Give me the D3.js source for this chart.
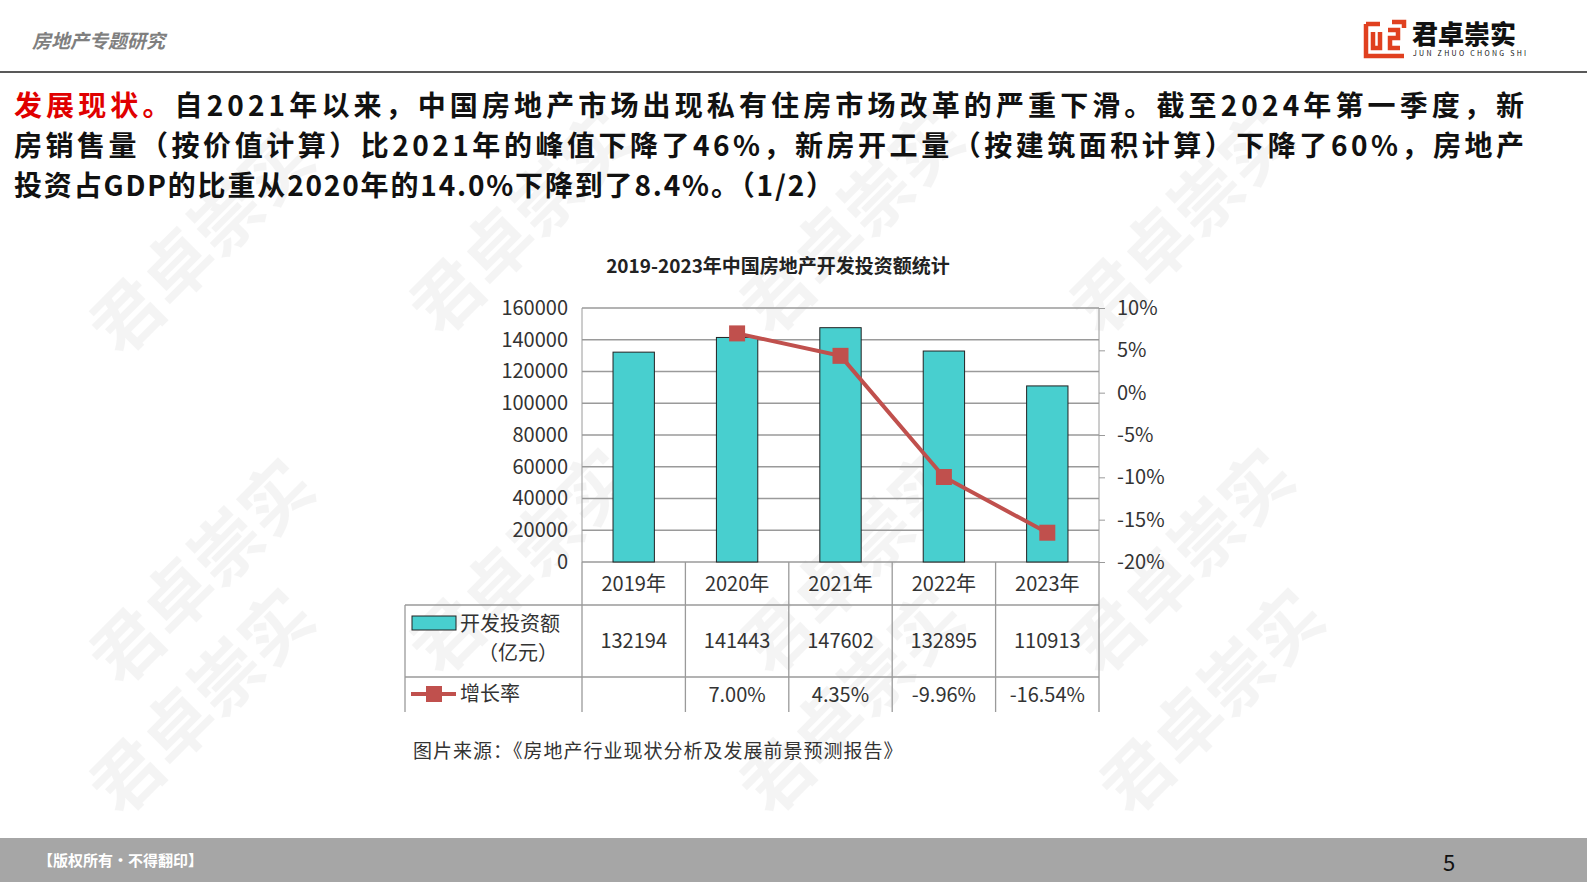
<!DOCTYPE html>
<html><head><meta charset="utf-8">
<script src="https://cdn.jsdelivr.net/npm/d3@7"></script>
<style>body{margin:0;background:#fff;overflow:hidden}svg{display:block}</style>
</head><body>
<svg id="c" width="1587" height="892"></svg>
<script>
const categories=["2019年","2020年","2021年","2022年","2023年"];
const investment=[132194,141443,147602,132895,110913];
const growth=[null,7.00,4.35,-9.96,-16.54];
const growthLabels=["","7.00%","4.35%","-9.96%","-16.54%"];
const leftTicks=[0,20000,40000,60000,80000,100000,120000,140000,160000];
const rightTicks=[-20,-15,-10,-5,0,5,10];

const svg=d3.select("#c");
const F="'Noto Sans CJK SC','Noto Sans',sans-serif";
// watermarks
const wm=[[220,260],[540,240],[870,240],[1200,240],[220,590],[540,580],[870,580],[1200,580],[220,720],[870,720],[1230,720]];
wm.forEach(([x,y])=>svg.append("text").attr("transform",`translate(${x},${y}) rotate(-45)`).attr("text-anchor","middle")
 .attr("font-family",F).attr("font-size",70).attr("font-weight",700).attr("fill","#000").attr("opacity",0.04).text("君卓崇实"));

// header
svg.append("text").attr("x",32).attr("y",48).attr("font-family",F).attr("font-size",19).attr("font-style","italic").attr("font-weight",700).attr("fill","#7f7f7f").text("房地产专题研究");
svg.append("line").attr("x1",0).attr("x2",1587).attr("y1",72).attr("y2",72).attr("stroke","#222").attr("stroke-width",1.5);
// logo
const lg=svg.append("g").attr("fill","none").attr("stroke","#e0401f").attr("stroke-width",4.5);
lg.append("path").attr("d","M1366,24 H1380 M1366,24 V56 H1404 M1373,32 V48 H1380 V32 M1388,30 H1398 V38 H1390 V48 H1400 M1392,22 H1404 V28");
svg.append("text").attr("x",1412).attr("y",44).attr("font-family",F).attr("font-size",26).attr("font-weight",900).attr("fill","#111").text("君卓崇实");
svg.append("text").attr("x",1413).attr("y",56).attr("font-family",F).attr("font-size",7).attr("letter-spacing",2.3).attr("fill","#111").text("JUN ZHUO CHONG SHI");

// title paragraph
const lines=[[["发展现状。","#e00000"],["自2021年以来，中国房地产市场出现私有住房市场改革的严重下滑。截至2024年第一季度，新","#111"]],
 [["房销售量（按价值计算）比2021年的峰值下降了46%，新房开工量（按建筑面积计算）下降了60%，房地产","#111"]],
 [["投资占GDP的比重从2020年的14.0%下降到了8.4%。（1/2）","#111"]]];
lines.forEach((ln,i)=>{const t=svg.append("text").attr("x",14).attr("y",116+i*40).attr("font-family",F).attr("font-size",28).attr("font-weight",700);
 if(i<2)t.attr("textLength",1510);else t.attr("textLength",820);
 ln.forEach(([s,c])=>t.append("tspan").attr("fill",c).text(s));});

// chart
const x0=582,x1=1099,yT=308,yB=562;
svg.append("text").attr("x",778).attr("y",273).attr("text-anchor","middle").attr("font-family",F).attr("font-size",19).attr("font-weight",700).attr("fill","#222").text("2019-2023年中国房地产开发投资额统计");
const x=d3.scaleBand().domain(categories).range([x0,x1]).paddingInner(0.6).paddingOuter(0.3);
const xb=d3.scaleBand().domain(categories).range([x0,x1]);
const yL=d3.scaleLinear().domain([0,160000]).range([yB,yT]);
const yR=d3.scaleLinear().domain([-20,10]).range([yB,yT]);
svg.append("g").selectAll("line").data(leftTicks).join("line").attr("x1",x0).attr("x2",x1).attr("y1",d=>yL(d)).attr("y2",d=>yL(d)).attr("stroke","#9a9a9a").attr("stroke-width",1.3);
svg.append("line").attr("x1",x0).attr("x2",x0).attr("y1",yT).attr("y2",yB).attr("stroke","#9a9a9a");
svg.append("line").attr("x1",x1).attr("x2",x1).attr("y1",yT).attr("y2",yB).attr("stroke","#9a9a9a");
svg.append("g").selectAll("rect").data(investment).join("rect").attr("x",(d,i)=>x(categories[i])).attr("width",x.bandwidth())
 .attr("y",d=>yL(d)).attr("height",d=>yB-yL(d)).attr("fill","#48cfcf").attr("stroke","#222").attr("stroke-width",1);
const gl=svg.append("g").attr("transform",`translate(${x0-6},0)`).call(d3.axisLeft(yL).tickValues(leftTicks).tickFormat(d3.format("d")).tickSize(0).tickPadding(8));
const gr=svg.append("g").attr("transform",`translate(${x1},0)`).call(d3.axisRight(yR).tickValues(rightTicks).tickFormat(d=>d+"%").tickSize(6).tickPadding(12));
[gl,gr].forEach(g=>{g.select(".domain").remove();g.selectAll("line").attr("stroke","#9a9a9a");g.selectAll("text").attr("font-family",F).attr("font-size",20).attr("fill","#333");});
const pts=growth.map((v,i)=>[i,v]).filter(d=>d[1]!=null);
const cx=i=>xb(categories[i])+xb.bandwidth()/2;
svg.append("path").attr("d",d3.line().x(d=>cx(d[0])).y(d=>yR(d[1]))(pts)).attr("fill","none").attr("stroke","#c0504d").attr("stroke-width",4);
svg.append("g").selectAll("rect").data(pts).join("rect").attr("x",d=>cx(d[0])-8).attr("y",d=>yR(d[1])-8).attr("width",16).attr("height",16).attr("fill","#c0504d");

// data table
const tl=405,r1=605,r2=677,r3=712,gc="#9a9a9a";
const tg=svg.append("g").attr("stroke",gc).attr("stroke-width",1.3);
categories.forEach((c,i)=>tg.append("line").attr("x1",xb(c)).attr("x2",xb(c)).attr("y1",yB).attr("y2",r3));
tg.append("line").attr("x1",x1).attr("x2",x1).attr("y1",yB).attr("y2",r3);
tg.append("line").attr("x1",tl).attr("x2",tl).attr("y1",r1).attr("y2",r3);
tg.append("line").attr("x1",tl).attr("x2",x1).attr("y1",r1).attr("y2",r1);
tg.append("line").attr("x1",tl).attr("x2",x1).attr("y1",r2).attr("y2",r2);
const tx=(xx,yy,s,a="middle")=>svg.append("text").attr("x",xx).attr("y",yy).attr("text-anchor",a).attr("font-family",F).attr("font-size",20).attr("fill","#333").text(s);
categories.forEach((c,i)=>{tx(cx(i),591,c);tx(cx(i),648,investment[i]);tx(cx(i),702,growthLabels[i]);});
svg.append("rect").attr("x",412).attr("y",616).attr("width",44).attr("height",14).attr("fill","#48cfcf").attr("stroke","#222");
tx(460,631,"开发投资额","start");tx(518,660,"（亿元）");
svg.append("line").attr("x1",411).attr("x2",456).attr("y1",694).attr("y2",694).attr("stroke","#c0504d").attr("stroke-width",4);
svg.append("rect").attr("x",426).attr("y",686).attr("width",16).attr("height",16).attr("fill","#c0504d");
tx(460,701,"增长率","start");

svg.append("text").attr("x",413).attr("y",758).attr("font-family",F).attr("font-size",19).attr("fill","#333").attr("letter-spacing",1).text("图片来源：《房地产行业现状分析及发展前景预测报告》");

// footer
svg.append("rect").attr("x",0).attr("y",838).attr("width",1587).attr("height",44).attr("fill","#a6a6a6");
svg.append("text").attr("x",38).attr("y",866).attr("font-family",F).attr("font-size",15).attr("font-weight",700).attr("fill","#fff").text("【版权所有·不得翻印】");
svg.append("text").attr("x",1449).attr("y",871).attr("text-anchor","middle").attr("font-family",F).attr("font-size",22).attr("fill","#111").text("5");
</script></body></html>
